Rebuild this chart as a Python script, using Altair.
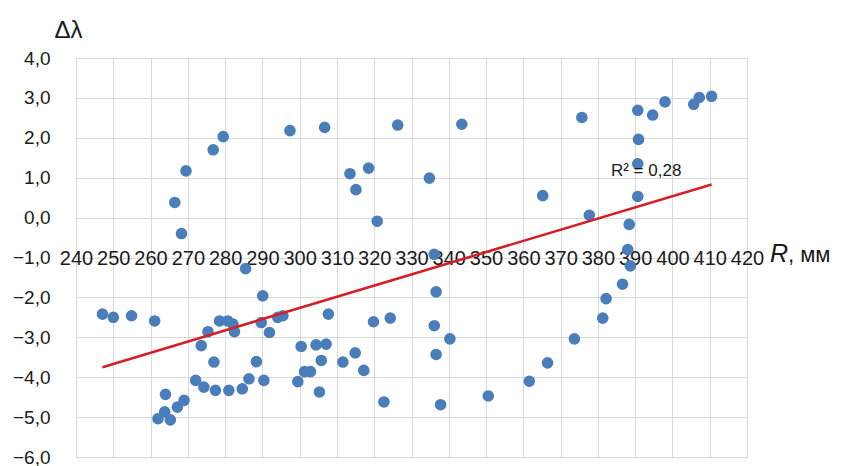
import altair as alt
import pandas as pd

# Radius R (mm) and deviation Δλ for each measurement
r_mm = [
    247.1, 250.0, 254.9, 261.1, 262.0, 263.8, 265.3, 264.0, 267.2, 269.0,
    268.3, 266.5, 269.5, 276.8, 279.5, 272.1, 274.3, 277.4, 281.0, 284.6,
    286.4, 290.4, 277.0, 288.4, 273.6, 275.4, 278.5, 280.7, 282.1, 282.5,
    285.5, 290.1, 289.7, 291.9, 294.1, 295.5, 297.4, 300.4, 304.4, 307.1,
    307.7, 305.8, 301.3, 302.9, 299.5, 305.3, 311.6, 314.9, 317.2, 319.8,
    324.3, 322.6, 306.7, 313.5, 315.1, 318.5, 320.8, 326.3, 334.8, 343.5,
    336.1, 336.6, 336.1, 340.3, 336.6, 337.8, 350.6, 361.6, 365.2, 366.5,
    373.7, 375.7, 377.7, 381.3, 382.2, 386.6, 388.7, 388.0, 388.4, 390.7,
    390.7, 390.9, 390.7, 394.7, 398.0, 405.7, 407.2, 410.5,
]
d_lambda = [
    -2.42, -2.50, -2.46, -2.59, -5.04, -4.87, -5.07, -4.43, -4.75, -4.58,
    -0.40, 0.38, 1.17, 1.70, 2.03, -4.08, -4.25, -4.33, -4.33, -4.29,
    -4.04, -4.08, -3.62, -3.61, -3.21, -2.86, -2.59, -2.59, -2.67, -2.86,
    -1.28, -1.96, -2.63, -2.88, -2.50, -2.46, 2.18, -3.23, -3.19, -3.17,
    -2.42, -3.58, -3.86, -3.86, -4.11, -4.37, -3.62, -3.39, -3.83, -2.61,
    -2.52, -4.62, 2.26, 1.10, 0.70, 1.24, -0.09, 2.32, 0.99, 2.34,
    -0.92, -1.86, -2.71, -3.04, -3.43, -4.69, -4.47, -4.10, 0.55, -3.64,
    -3.04, 2.51, 0.06, -2.52, -2.03, -1.67, -1.21, -0.80, -0.17, 0.53,
    1.35, 1.96, 2.69, 2.57, 2.90, 2.84, 3.01, 3.04,
]

x_ticks = list(range(240, 421, 10))
y_ticks = list(range(-6, 5))
r2_text = "R² = 0,28"

FONT = "Liberation Sans"
GRID = "#d9d9d9"

df = pd.DataFrame({"R": r_mm, "dl": d_lambda})

x_scale = alt.Scale(domain=[240, 420], nice=False, zero=False)
y_scale = alt.Scale(domain=[-6, 4], nice=False, zero=False)

x_axis = alt.Axis(
    values=x_ticks, grid=True, gridColor=GRID, gridWidth=1,
    domain=False, ticks=False, tickSize=0,
    offset=-239, labelPadding=30,
    labelFont=FONT, labelFontSize=20, labelColor="#1a1a1a",
    labelOverlap=False, labelFlush=False, title=None,
)
y_axis = alt.Axis(
    values=y_ticks, grid=True, gridColor=GRID, gridWidth=1,
    domain=False, ticks=False, tickSize=0, labelPadding=26,
    labelFont=FONT, labelFontSize=19, labelColor="#1a1a1a",
    labelOverlap=False,
    labelExpr="replace(format(datum.value, '.1f'), '.', ',')",
    title="Δλ", titleAngle=0, titleFont=FONT, titleFontSize=24,
    titleFontWeight="normal", titleColor="#1a1a1a",
    titleAlign="left", titleBaseline="middle", titleX=-22, titleY=-28,
)

# shared position encodings so every layer carries the same axes
X = alt.X("R:Q", scale=x_scale, axis=x_axis)
Y = alt.Y("dl:Q", scale=y_scale, axis=y_axis)

base = alt.Chart(df)

points = base.mark_circle(size=135, opacity=1, color="#4a7ebb").encode(x=X, y=Y)

trend = base.transform_regression("R", "dl").mark_line(
    color="#d41f26", strokeWidth=2.6
).encode(x=X, y=Y)

r2_label = alt.Chart(pd.DataFrame({"R": [383.5], "dl": [1.18], "t": [r2_text]})).mark_text(
    align="left", baseline="middle", font=FONT, fontSize=17, color="#1a1a1a"
).encode(x=X, y=Y, text="t:N")

# x-axis title: italic R followed by the unit
r_title = alt.Chart(pd.DataFrame({"t": ["R"]})).mark_text(
    align="left", baseline="middle", font=FONT, fontSize=25,
    fontStyle="italic", color="#1a1a1a",
).encode(x=alt.value(694), y=alt.value(196), text="t:N")

unit_title = alt.Chart(pd.DataFrame({"t": [", мм"]})).mark_text(
    align="left", baseline="middle", font=FONT, fontSize=22, color="#1a1a1a",
).encode(x=alt.value(712), y=alt.value(197), text="t:N")

chart = alt.layer(points, trend, r2_label, r_title, unit_title).properties(
    width=671, height=399,
    autosize=alt.AutoSizeParams(type="none"),
    padding={"left": 76, "top": 58, "right": 100, "bottom": 9},
    background="white",
).configure_view(stroke=None)

chart.save("out.html", embed_options={"renderer": "svg", "actions": False})
